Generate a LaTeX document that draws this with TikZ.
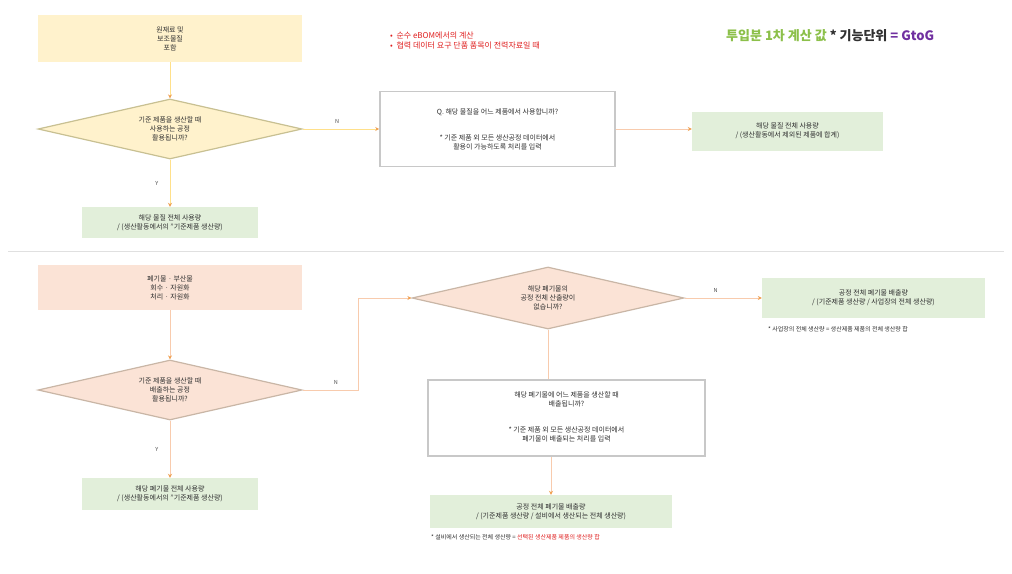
\documentclass[tikz,border=0pt]{standalone}
\usepackage{fontspec}
\setmainfont{Noto Sans CJK KR}
\usetikzlibrary{shapes.geometric,arrows.meta}
\definecolor{ylwF}{HTML}{FFF2CC}
\definecolor{ylwD}{HTML}{C8C092}
\definecolor{pnkF}{HTML}{FBE3D6}
\definecolor{pnkD}{HTML}{C9B6A6}
\definecolor{grnF}{HTML}{E2EFDA}
\definecolor{connY}{HTML}{FFE08A}
\definecolor{connO}{HTML}{F8CBAD}
\definecolor{tipc}{HTML}{F0A050}
\definecolor{boxD}{HTML}{C8C8C8}
\definecolor{redT}{HTML}{E02020}
\definecolor{grnT}{HTML}{8CC04A}
\definecolor{purT}{HTML}{7030A0}
\definecolor{txt}{HTML}{303030}
\begin{document}
\begin{tikzpicture}[x=1pt,y=-1pt,
  font=\fontsize{7}{9}\selectfont, text=txt,
  ybox/.style={fill=ylwF, draw=none, minimum width=264, minimum height=47, align=center, inner sep=0},
  pbox/.style={fill=pnkF, draw=none, minimum width=264, minimum height=45, align=center, inner sep=0},
  gbox/.style={fill=grnF, draw=none, align=center, inner sep=0},
  wbox/.style={fill=white, draw=boxD, line width=1.6pt, align=center, inner sep=0},
  btxt/.style={align=center, inner sep=0},
  ydia/.style={diamond, aspect=4.4, fill=ylwF, draw=ylwD, line width=1.2pt, minimum width=264, minimum height=60, inner sep=0, align=center},
  pdia/.style={diamond, aspect=4.4, fill=pnkF, draw=pnkD, line width=1.2pt, minimum width=264, minimum height=60, inner sep=0, align=center},
  lnY/.style={draw=connY, line width=0.9pt, -{Stealth[length=4pt,width=4pt,color=tipc]}},
  lnO/.style={draw=connO, line width=0.9pt, -{Stealth[length=4pt,width=4pt,color=tipc]}},
  lbl/.style={font=\fontsize{5.5}{6}\selectfont, text=black!70},
  note/.style={font=\fontsize{6}{7}\selectfont, anchor=west, inner sep=0}
]
\useasboundingbox (0,0) rectangle (1012,573);
\fill[white] (0,0) rectangle (1012,573);

% ---------- top section ----------
\node[ybox] (y1) at (170,38.5) {원재료 및\\보조물질\\포함};
\node[ydia] (d1) at (170,129) {기준 제품을 생산할 때\\사용하는 공정\\활용됩니까?};
\node[wbox, minimum width=235, minimum height=75] (b1) at (497.5,129) {};
\node[btxt] (b1q) at (497.5,112) {Q. 해당 물질을 어느 제품에서 사용합니까?};
\node[btxt] (b1n) at (497.5,142) {* 기준 제품 외 모든 생산공정 데이터에서\\활용이 가능하도록 처리를 입력};
\node[gbox, minimum width=191, minimum height=39] (g1) at (787.5,131) {해당 물질 전체 사용량\\/ (생산활동에서 제외된 제품에 합계)};
\node[gbox, minimum width=176, minimum height=31] (g2) at (170,222.5) {해당 물질 전체 사용량\\/ (생산활동에서의 "기준제품 생산량)};

\draw[lnY] (y1.south) -- (d1.north);
\draw[lnY] (d1.east) -- node[lbl, above=2pt, pos=0.45] {N} (b1.west);
\draw[lnO] (b1.east) -- (b1.east -| g1.west);
\draw[lnY] (d1.south) -- node[lbl, left=8pt, pos=0.5] {Y} (g2.north);

\node[anchor=west, text=redT, align=left, inner sep=0, font=\fontsize{8}{10}\selectfont] (rn) at (390,41) {•\ \ 순수 eBOM에서의 계산\\•\ \ 협력 데이터 요구 단품 품목이 전력자료일 때};
\node[anchor=west, inner sep=0, font=\fontsize{13}{14}\selectfont\bfseries] (tt) at (726,36) {\textcolor{grnT}{투입분 1차 계산 값} \textcolor{txt}{* 기능단위} \textcolor{purT}{= GtoG}};

% separator
\draw[black!12, line width=1pt] (8,251) -- (1004,251);

% ---------- bottom section ----------
\node[pbox] (p1) at (170,287.5) {폐기물 · 부산물\\회수 · 자원화\\처리 · 자원화};
\node[pdia] (d2) at (170,390) {기준 제품을 생산할 때\\배출하는 공정\\활용됩니까?};
\node[pdia, minimum width=272, minimum height=62] (d3) at (548,298) {해당 폐기물의\\공정 전체 산출량이\\없습니까?};
\node[gbox, minimum width=223, minimum height=40] (g3) at (873.5,298) {공정 전체 폐기물 배출량\\/ (기준제품 생산량 / 사업장의 전체 생산량)};
\node[note] (n3) at (768,329) {* 사업장의 전체 생산량 = 생산제품 제품의 전체 생산량 합};
\node[wbox, minimum width=277, minimum height=76] (b2) at (566.5,418) {};
\node[btxt] (b2q) at (566.5,399) {해당 폐기물에 어느 제품을 생산할 때\\배출됩니까?};
\node[btxt] (b2n) at (566.5,434) {* 기준 제품 외 모든 생산공정 데이터에서\\폐기물이 배출되는 처리를 입력};
\node[gbox, minimum width=242, minimum height=33] (g4) at (551,511.5) {공정 전체 폐기물 배출량\\/ (기준제품 생산량 / 설비에서 생산되는 전체 생산량)};
\node[note] (n4) at (431,537) {* 설비에서 생산되는 전체 생산량 = \textcolor{redT}{선택된 생산제품 제품의 생산량 합}};
\node[gbox, minimum width=176, minimum height=32] (g5) at (170,494) {해당 폐기물 전체 사용량\\/ (생산활동에서의 "기준제품 생산량)};

\coordinate (k1) at (358,390);
\coordinate (k2) at (358,298);
\draw[lnO] (p1.south) -- (d2.north);
\draw[lnO] (d2.east) -- node[lbl, above=2pt, pos=0.6] {N} (k1) -- (k2) -- (d3.west);
\draw[lnO] (d3.east) -- node[lbl, above=2pt, pos=0.4] {N} (g3.west);
\draw[draw=connO, line width=0.9pt] (d3.south) -- (d3.south |- b2.north);
\draw[lnO] (b2.south -| g4.north) -- (g4.north);
\draw[lnO] (d2.south) -- node[lbl, left=8pt, pos=0.5] {Y} (g5.north);
\end{tikzpicture}
\end{document}
